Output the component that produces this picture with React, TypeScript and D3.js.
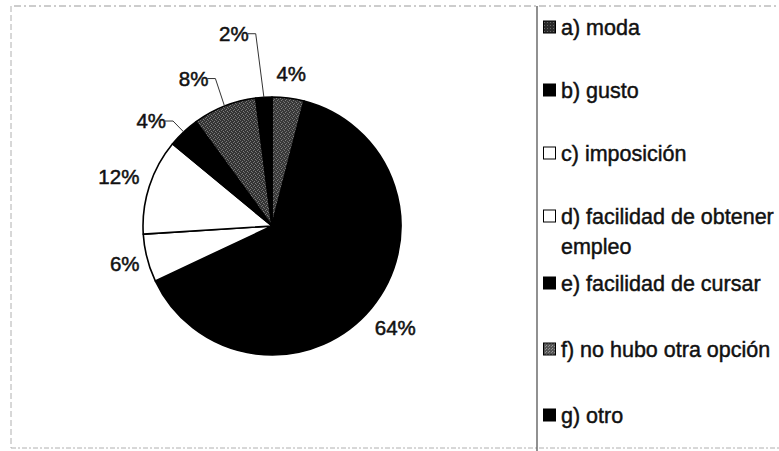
import React from "react";
import * as d3 from "d3";

// Reasons for choosing the field of study (share of answers, %)
const categories = [
  "a) moda",
  "b) gusto",
  "c) imposición",
  "d) facilidad de obtener empleo",
  "e) facilidad de cursar",
  "f) no hubo otra opción",
  "g) otro",
];
const shares = [4, 64, 6, 12, 4, 8, 2];
const legendLines = [
  ["a) moda"],
  ["b) gusto"],
  ["c) imposición"],
  ["d) facilidad de obtener", "empleo"],
  ["e) facilidad de cursar"],
  ["f) no hubo otra opción"],
  ["g) otro"],
];

const W = 779;
const H = 451;
const CX = 272;
const CY = 226;
const R = 129;

// slice fills: black, white or a stippled grey
const sliceFill = [
  "url(#stippleA)",
  "#000",
  "#fff",
  "#fff",
  "#000",
  "url(#stippleF)",
  "#000",
];
const keyFill = [
  "url(#stippleKeyA)",
  "#000",
  "#fff",
  "#fff",
  "#000",
  "url(#stippleKeyF)",
  "#000",
];

// label placement: polar angle (degrees clockwise from 12 o'clock; null = slice middle)
// and distance from the centre; leader marks labels that were pulled away
const labelPlacement = [
  { angle: null, dist: 154, leader: false },
  { angle: null, dist: 160, leader: false },
  { angle: null, dist: 152, leader: false },
  { angle: null, dist: 161, leader: false },
  { angle: 311, dist: 160, leader: true },
  { angle: 332, dist: 167, leader: true },
  { angle: 348.8, dist: 196, leader: true },
];

const FONT = "'Liberation Sans', Arial, Helvetica, sans-serif";

function polar(angleRad: number, dist: number): [number, number] {
  return [CX + dist * Math.sin(angleRad), CY - dist * Math.cos(angleRad)];
}

export default function App() {
  const pie = d3
    .pie<number>()
    .sort(null)
    .value((d) => d)
    .startAngle(0)
    .endAngle(2 * Math.PI);
  const arcs = pie(shares);
  const arc = d3.arc<d3.PieArcDatum<number>>().innerRadius(0).outerRadius(R);

  const legendY = (i: number) => 27 + i * 63 + (i >= 4 ? 4 + (i - 4) * 3 : 0);

  return (
    <svg
      width={W}
      height={H}
      viewBox={`0 0 ${W} ${H}`}
      style={{ position: "absolute", left: 0, top: 0, background: "#fff" }}
    >
      <defs>
        <pattern id="stippleA" width="4" height="4" patternUnits="userSpaceOnUse">
          <rect width="4" height="4" fill="#383838" />
          <rect x="0" y="0" width="1" height="1" fill="#7a7a7a" />
          <rect x="2" y="1" width="1" height="1" fill="#6e6e6e" />
          <rect x="1" y="2" width="1" height="1" fill="#808080" />
          <rect x="3" y="3" width="1" height="1" fill="#6a6a6a" />
        </pattern>
        <pattern id="stippleF" width="4" height="4" patternUnits="userSpaceOnUse">
          <rect width="4" height="4" fill="#343434" />
          <rect x="1" y="0" width="1" height="1" fill="#747474" />
          <rect x="3" y="1" width="1" height="1" fill="#808080" />
          <rect x="0" y="2" width="1" height="1" fill="#6c6c6c" />
          <rect x="2" y="3" width="1" height="1" fill="#7c7c7c" />
        </pattern>
        <pattern id="stippleKeyA" width="3" height="3" patternUnits="userSpaceOnUse">
          <rect width="3" height="3" fill="#2a2a2a" />
          <rect x="1" y="1" width="1" height="1" fill="#666" />
        </pattern>
        <pattern id="stippleKeyF" width="3" height="3" patternUnits="userSpaceOnUse">
          <rect width="3" height="3" fill="#555" />
          <rect x="0" y="0" width="1" height="1" fill="#999" />
          <rect x="2" y="1" width="1" height="1" fill="#8a8a8a" />
        </pattern>
      </defs>

      {/* frame */}
      <line x1={14} y1={6} x2={W} y2={6} stroke="#9a9a9a" strokeWidth={1} strokeDasharray="7 3 2 3" />
      <line x1={11} y1={6} x2={11} y2={448} stroke="#b0b0b0" strokeWidth={1} strokeDasharray="6 3" />
      <line x1={11} y1={448} x2={W} y2={448} stroke="#b0b0b0" strokeWidth={1} strokeDasharray="5 2 2 2" />
      <line x1={537} y1={6} x2={537} y2={H} stroke="#555" strokeWidth={1.3} />

      {/* pie */}
      <g transform={`translate(${CX},${CY})`}>
        {arcs.map((a, i) => (
          <path
            key={categories[i]}
            d={arc(a) || ""}
            fill={sliceFill[i]}
            stroke="#000"
            strokeWidth={1.6}
            strokeLinejoin="round"
          />
        ))}
      </g>

      {/* percentage labels */}
      {arcs.map((a, i) => {
        const p = labelPlacement[i];
        const mid = (a.startAngle + a.endAngle) / 2;
        const ang = p.angle === null ? mid : (p.angle * Math.PI) / 180;
        const [tx, ty] = polar(ang, p.dist);
        const label = `${shares[i]}%`;
        let leader = null;
        if (p.leader) {
          const halfW = label.length * 5.4;
          const [ex, ey] = polar(mid, R);
          const sx = tx + halfW + 3;
          const kx = sx + 8;
          leader = (
            <polyline
              points={`${sx},${ty} ${kx},${ty} ${ex},${ey}`}
              fill="none"
              stroke="#333"
              strokeWidth={1}
            />
          );
        }
        return (
          <g key={`lbl-${i}`}>
            {leader}
            <text
              x={tx}
              y={ty}
              dy="0.36em"
              textAnchor="middle"
              fontFamily={FONT}
              fontSize={20.5}
              fill="#111"
              stroke="#111"
              strokeWidth={0.5}
            >
              {label}
            </text>
          </g>
        );
      })}

      {/* legend */}
      {legendLines.map((lines, i) => {
        const y = legendY(i);
        return (
          <g key={`leg-${i}`}>
            <rect
              x={543.5}
              y={y - 6}
              width={12}
              height={12}
              fill={keyFill[i]}
              stroke="#000"
              strokeWidth={1}
            />
            {lines.map((t, j) => (
              <text
                key={t}
                x={561}
                y={y + j * 30}
                dy="0.36em"
                fontFamily={FONT}
                fontSize={21.5}
                fill="#111"
                stroke="#111"
                strokeWidth={0.45}
              >
                {t}
              </text>
            ))}
          </g>
        );
      })}
    </svg>
  );
}
